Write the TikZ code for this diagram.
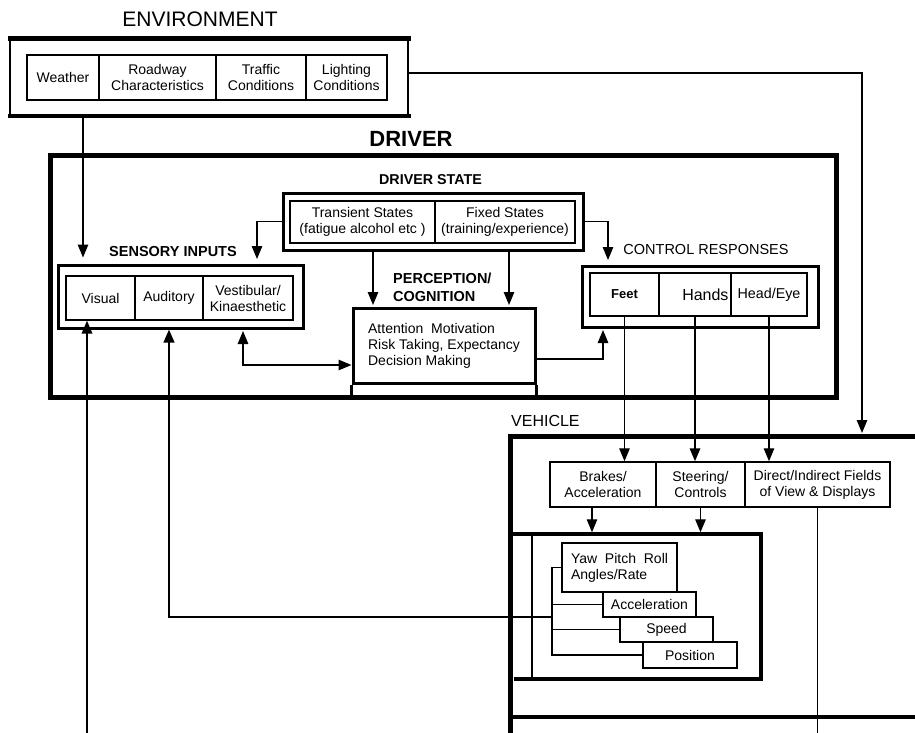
\documentclass[tikz,border=0pt]{standalone}
\usepackage{fontspec}
\setmainfont{Liberation Sans}
\usetikzlibrary{arrows.meta}
\tikzset{
  lbl/.style={inner sep=0pt},
  cell/.style={draw, line width=1.3pt, align=center, inner sep=0pt, font=\fontsize{14}{16}\selectfont},
  conn/.style={line width=1.3pt, -{Triangle[length=13pt,width=10.5pt]}},
  plain/.style={line width=1.3pt},
  biarrow/.style={line width=1.3pt, {Triangle[length=13pt,width=10.5pt]}-{Triangle[length=13pt,width=10.5pt]}},
}
\begin{document}
\begin{tikzpicture}[x=1pt,y=-1pt]
\useasboundingbox (0,0) rectangle (915,733);

% ---------------- ENVIRONMENT ----------------
\node[lbl, font=\fontsize{21}{24}\selectfont] (envlbl) at (200,19) {ENVIRONMENT};
\node[draw, line width=2.5pt, minimum width=398pt, minimum height=75pt] (env) at (209,77.5) {};
\draw[line width=4.5pt] ([xshift=-1.25pt]env.north west) -- ([xshift=1.25pt]env.north east);
\draw[line width=4.5pt] ([xshift=-1.25pt]env.south west) -- ([xshift=1.25pt]env.south east);
\node[cell, minimum width=72pt, minimum height=45pt] (weather) at (63,77.5) {Weather};
\node[cell, minimum width=117pt, minimum height=45pt] (roadway) at (157.5,77.5) {Roadway\\Characteristics};
\node[cell, minimum width=90pt, minimum height=45pt] (traffic) at (261,77.5) {Traffic\\Conditions};
\node[cell, minimum width=81pt, minimum height=45pt] (lighting) at (346.5,77.5) {Lighting\\Conditions};

% ---------------- DRIVER ----------------
\node[lbl, font=\bfseries\fontsize{22}{26}\selectfont] (drvlbl) at (411,139) {DRIVER};
\node[draw, line width=5pt, minimum width=786pt, minimum height=242pt] (driver) at (443,276) {};

\node[lbl, font=\bfseries\fontsize{14.3}{16}\selectfont] (dslbl) at (430.5,180) {DRIVER STATE};
\node[draw, line width=3pt, minimum width=300pt, minimum height=57pt] (ds) at (433,221.5) {};
\node[cell, line width=2pt, minimum width=145pt, minimum height=42pt] (trans) at (362.5,222) {Transient States\\(fatigue\ alcohol\ etc )};
\node[cell, line width=2pt, minimum width=140pt, minimum height=42pt] (fixed) at (505,222) {Fixed States\\(training/experience)};

\node[lbl, font=\bfseries\fontsize{14.5}{16}\selectfont] (senslbl) at (173,252) {SENSORY INPUTS};
\node[draw, line width=3pt, minimum width=245pt, minimum height=63pt] (sens) at (180.5,296.5) {};
\node[cell, minimum width=69pt, minimum height=44pt] (vis) at (100.5,298) {Visual};
\node[cell, minimum width=68pt, minimum height=44pt] (aud) at (169,298) {Auditory};
\node[cell, minimum width=90pt, minimum height=44pt] (vest) at (248,298) {Vestibular/\\Kinaesthetic};

\node[lbl, font=\bfseries\fontsize{14.5}{18}\selectfont, align=left, anchor=west] (perclbl) at (393,287) {PERCEPTION/\\COGNITION};
\node[draw, line width=3pt, minimum width=182pt, minimum height=75pt, align=left, inner sep=0pt,
      font=\fontsize{14}{16}\selectfont] (perc) at (444,345.5)
      {Attention\ \ Motivation\\Risk Taking, Expectancy\\Decision Making};
\draw[line width=3pt] (perc.south west) -- ++(0,13.5) (perc.south east) -- ++(0,13.5);

\node[lbl, font=\fontsize{14.5}{16}\selectfont] (ctrllbl) at (706,250) {CONTROL RESPONSES};
\node[draw, line width=3pt, minimum width=236pt, minimum height=61pt] (ctrl) at (700,296.5) {};
\node[cell, line width=2pt, minimum width=69pt, minimum height=43pt, font=\bfseries\fontsize{13}{15}\selectfont] (feet) at (624.5,294.5) {Feet};
\node[cell, line width=2pt, minimum width=72pt, minimum height=43pt, font=\fontsize{16}{18}\selectfont, text width=67pt, align=right] (hands) at (695,294.5) {Hands};
\node[cell, line width=2pt, minimum width=76pt, minimum height=43pt, font=\fontsize{14.3}{16}\selectfont] (head) at (769,294.5) {Head/Eye};

% ---------------- VEHICLE ----------------
\node[lbl, font=\fontsize{16}{18}\selectfont, anchor=west] (vehlbl) at (511,421) {VEHICLE};
\coordinate (vtl) at (510,436);
\draw[line width=5pt] (920,436) -- (vtl) -- (510,738);
\draw[line width=4pt] (vtl |- 0,717) -- (920,717);

\node[cell, line width=1.5pt, minimum width=106pt, minimum height=45pt] (brakes) at (603,484.5) {Brakes/\\Acceleration};
\node[cell, line width=1.5pt, minimum width=89pt, minimum height=45pt] (steer) at (700.5,484.5) {Steering/\\Controls};
\node[cell, line width=1.5pt, minimum width=145pt, minimum height=45pt] (direct) at (817.5,484.5) {Direct/Indirect Fields\\of View \& Displays};

\node[draw, line width=1.5pt, minimum width=228pt, minimum height=143pt] (dyn) at (646,606.5) {};
\draw[line width=4pt] (vtl |- dyn.north) -- (dyn.north east) -- (dyn.south east) -- ([xshift=-17pt]dyn.south west);

\node[cell, line width=2.5pt, minimum width=115pt, minimum height=49pt, align=left] (yaw) at (619.5,567.5) {Yaw\ \ Pitch\ \ Roll\\Angles/Rate};
\node[cell, line width=2pt, minimum width=93pt, minimum height=25pt] (accel) at (649.5,604.5) {Acceleration};
\node[cell, line width=2pt, minimum width=93pt, minimum height=25pt] (speed) at (666.5,629.5) {Speed};
\node[cell, line width=2pt, minimum width=94pt, minimum height=26pt] (pos) at (690,655) {Position};

\coordinate (bx) at (552,600);
\draw[plain] (yaw.west) -- (yaw.west -| bx) -- (pos.west -| bx) -- (pos.west);
\draw[plain] (accel.west -| bx) -- (accel.west);
\draw[plain] (speed.west -| bx) -- (speed.west);

% ---------------- CONNECTORS ----------------
\coordinate (envx) at (83,0);
\draw[conn, shorten >=6pt] (envx |- env.south) -- (envx |- sens.north);

\coordinate (vin) at (862,433);
\draw[conn] ([yshift=4.5pt]env.east) -| (vin);

\coordinate (sensin) at (257,259);
\draw[conn] (ds.west) -| (sensin);
\coordinate (ctrlin) at (608,260);
\draw[conn] (ds.east) -| (ctrlin);

\coordinate (p1) at (373,305);
\coordinate (p2) at (509,305);
\draw[conn] (ds.south -| p1) -- (p1);
\draw[conn] (ds.south -| p2) -- (p2);

\coordinate (vestin) at (243,331);
\draw[biarrow] (vestin) |- ([yshift=-19.5pt]perc.west);

\coordinate (ctrlup) at (603,330);
\draw[conn] ([yshift=-13.5pt]perc.east) -| (ctrlup);

\draw[conn] (feet.south) -- (feet.south |- brakes.north);
\draw[conn, line width=1.8pt] (hands.south) -- (hands.south |- steer.north);
\draw[conn] (head.south) -- (head.south |- direct.north);

\coordinate (bkx) at (592,0);
\draw[conn, shorten >=2pt] (bkx |- brakes.south) -- (bkx |- dyn.north);
\draw[conn, shorten >=2pt] (steer.south) -- (steer.south |- dyn.north);

\coordinate (dbot) at (818,733);
\draw[plain] (direct.south) -- (direct.south |- dbot);

\coordinate (visbot) at (87,733);
\draw[conn, line width=1.8pt] (visbot) -- (visbot |- vis.south);

\coordinate (fb) at (552,617);
\draw[conn, line width=2.5pt] (fb) -| (aud.south |- sens.south);
\end{tikzpicture}
\end{document}
